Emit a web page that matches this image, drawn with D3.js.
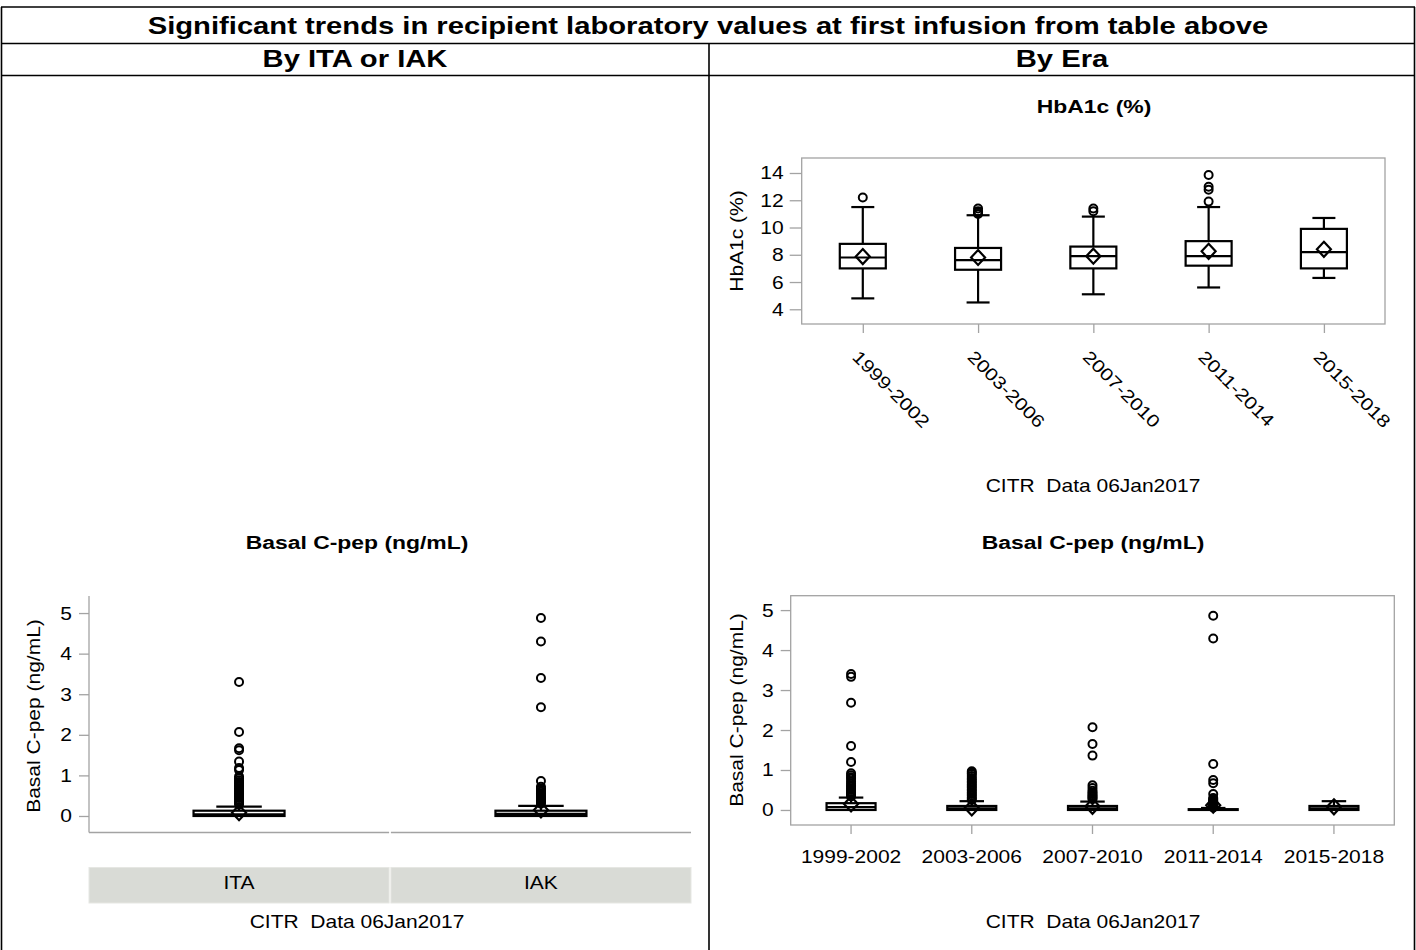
<!DOCTYPE html>
<html><head><meta charset="utf-8">
<script src="https://cdn.jsdelivr.net/npm/d3@7"></script>
<style>
html,body{margin:0;padding:0;background:#fff;}
text{font-family:"Liberation Sans",Arial,sans-serif;fill:#000;white-space:pre;}
</style></head><body>
<svg id="c" width="1416" height="950"></svg>
<script>
// ---------------- data ----------------
const headerTitle = "Significant trends in recipient laboratory values at first infusion from table above";
const colHeaders = ["By ITA or IAK", "By Era"];
const footnote = "CITR  Data 06Jan2017";
const hbTitle = "HbA1c (%)";
const cpTitle = "Basal C-pep (ng/mL)";

const eras = ["1999-2002", "2003-2006", "2007-2010", "2011-2014", "2015-2018"];
const hbTicks = [4, 6, 8, 10, 12, 14];
const hbMin  = [4.8, 4.5, 5.1, 5.6, 6.3];
const hbQ1   = [7.0, 6.9, 7.0, 7.2, 7.0];
const hbMed  = [7.8, 7.6, 7.9, 7.9, 8.2];
const hbQ3   = [8.8, 8.5, 8.6, 9.0, 9.9];
const hbMax  = [11.5, 10.9, 10.8, 11.5, 10.7];
const hbMean = [7.87, 7.8, 7.9, 8.25, 8.4];
const hbOut  = [[12.2], [11.0, 11.1, 11.2, 11.4], [11.2, 11.4], [11.9, 12.77, 12.99, 13.85], []];

const cpTicks = [0, 1, 2, 3, 4, 5];
const eraMin  = [0, 0, 0, 0, 0];
const eraQ1   = [0, 0, 0, 0, 0];
const eraMed  = [0.07, 0.04, 0.04, 0.0, 0.04];
const eraQ3   = [0.17, 0.1, 0.1, 0.02, 0.1];
const eraMax  = [0.31, 0.22, 0.21, 0.05, 0.22];
const eraMean = [0.15, 0.05, 0.09, 0.12, 0.08];
const eraOut  = [
  [3.4, 3.33, 2.68, 1.6, 1.2, 0.92, 0.87, 0.82, 0.78, 0.72, 0.67, 0.62, 0.58, 0.54, 0.5, 0.46, 0.43, 0.4, 0.37, 0.34],
  [0.97, 0.93, 0.9, 0.85, 0.8, 0.76, 0.72, 0.68, 0.64, 0.6, 0.56, 0.52, 0.48, 0.44, 0.4, 0.36, 0.32, 0.28, 0.25],
  [2.07, 1.65, 1.36, 0.62, 0.55, 0.48, 0.44, 0.4, 0.36, 0.33, 0.3, 0.27],
  [4.86, 4.29, 1.15, 0.75, 0.67, 0.4, 0.3, 0.27, 0.24, 0.21, 0.18, 0.15, 0.12, 0.1, 0.08, 0.06],
  []
];

const groups   = ["ITA", "IAK"];
const grpMin   = [0, 0];
const grpQ1    = [0, 0];
const grpMed   = [0.04, 0.05];
const grpQ3    = [0.13, 0.13];
const grpMax   = [0.23, 0.25];
const grpMean  = [0.08, 0.15];
const grpOut   = [
  [3.3, 2.07, 1.67, 1.62, 1.34, 1.18, 1.13, 0.97, 0.93, 0.88, 0.84, 0.8, 0.76, 0.72, 0.68, 0.64, 0.6, 0.56, 0.52, 0.48, 0.44, 0.4, 0.36, 0.32, 0.28],
  [4.88, 4.3, 3.4, 2.68, 0.86, 0.72, 0.68, 0.64, 0.6, 0.56, 0.52, 0.48, 0.45, 0.42, 0.39, 0.36, 0.33, 0.3]
];

// ---------------- helpers ----------------
const svg = d3.select("#c");
const REG = {size: 17.5, sx: 1.2};
const BOLD = {size: 17.5, sx: 1.31, weight: "bold"};
const HEAD = {size: 23, sx: 1.27, weight: "bold"};
const GRAY = "#a3a3a3";
const intFmt = d3.format("d");

function label(g, x, y, s, o, anchor, rot) {
  return g.append("text")
    .attr("transform", `translate(${x},${y}) rotate(${rot || 0}) scale(${o.sx},1)`)
    .attr("text-anchor", anchor || "middle")
    .style("font-size", o.size + "px")
    .style("font-weight", o.weight || "normal")
    .text(s);
}

function stats(cats, mn, q1, md, q3, mx, mean, out) {
  return cats.map((c, i) => ({cat: c, min: mn[i], q1: q1[i], med: md[i], q3: q3[i], max: mx[i], mean: mean[i], out: out[i]}));
}

function drawBoxes(g, data, cx, y, halfW) {
  const capW = halfW / 2;
  const b = g.selectAll("g.box").data(data).join("g").attr("class", "box")
    .attr("transform", d => `translate(${cx(d.cat)},0)`);
  const ln = {stroke: "#000", "stroke-width": 2.2, fill: "none"};
  function L(sel) { Object.entries(ln).forEach(([k, v]) => sel.attr(k, v)); return sel; }
  L(b.append("line").attr("x1", 0).attr("x2", 0).attr("y1", d => y(d.q3)).attr("y2", d => y(d.max)));
  L(b.append("line").attr("x1", 0).attr("x2", 0).attr("y1", d => y(d.q1)).attr("y2", d => y(d.min)));
  L(b.append("line").attr("x1", -capW).attr("x2", capW).attr("y1", d => y(d.max)).attr("y2", d => y(d.max)));
  L(b.filter(d => d.min < d.q1).append("line").attr("x1", -capW).attr("x2", capW).attr("y1", d => y(d.min)).attr("y2", d => y(d.min)));
  L(b.append("rect").attr("x", -halfW).attr("width", 2 * halfW)
    .attr("y", d => y(d.q3)).attr("height", d => Math.max(0.5, y(d.q1) - y(d.q3))));
  L(b.append("line").attr("x1", -halfW).attr("x2", halfW).attr("y1", d => y(d.med)).attr("y2", d => y(d.med)));
  L(b.append("path").attr("d", d => {
    const m = y(d.mean);
    return `M0,${m - 7.5}L7,${m}L0,${m + 7.5}L-7,${m}Z`;
  }));
  b.selectAll("circle").data(d => d.out).join("circle")
    .attr("cx", 0).attr("cy", v => y(v)).attr("r", 4)
    .attr("fill", "none").attr("stroke", "#000").attr("stroke-width", 2);
}

function styleAxis(ax, o) {
  ax.select(".domain").remove();
  ax.selectAll(".tick line").attr("stroke", GRAY).attr("stroke-width", 1.3);
  ax.selectAll(".tick text").style("font-size", o.size + "px").style("font-family", null);
}

// ---------------- table frame ----------------
const T = svg.append("g");
const tl = (x1, y1, x2, y2) => T.append("line").attr("x1", x1).attr("y1", y1).attr("x2", x2).attr("y2", y2)
  .attr("stroke", "#000").attr("stroke-width", 1.6);
tl(1, 7, 1415, 7);
tl(1, 43.5, 1415, 43.5);
tl(1, 75.5, 1415, 75.5);
tl(1.5, 7, 1.5, 950);
tl(1414.5, 7, 1414.5, 950);
tl(709, 43.5, 709, 950);
label(T, 708, 34, headerTitle, HEAD);
label(T, 355, 67, colHeaders[0], HEAD);
label(T, 1062, 67, colHeaders[1], HEAD);

// ---------------- HbA1c by era ----------------
{
  const g = svg.append("g");
  const x0 = 801.7, x1 = 1385, yT = 158, yB = 324;
  const y = d3.scaleLinear().domain([2.92, 15.1]).range([yB, yT]);
  const x = d3.scalePoint().domain(eras).range([x0, x1]).padding(0.53);
  g.append("rect").attr("x", x0).attr("y", yT).attr("width", x1 - x0).attr("height", yB - yT)
    .attr("fill", "none").attr("stroke", GRAY).attr("stroke-width", 1.3);
  const ay = g.append("g").attr("transform", `translate(${x0},0)`)
    .call(d3.axisLeft(y).tickValues(hbTicks).tickFormat(intFmt).tickSize(12).tickPadding(6));
  styleAxis(ay, REG);
  ay.selectAll(".tick text").attr("x", null).attr("dy", null)
    .attr("transform", `translate(-18,6) scale(${REG.sx},1)`);
  const ax = g.append("g").attr("transform", `translate(0,${yB})`)
    .call(d3.axisBottom(x).tickSize(9).tickPadding(4));
  styleAxis(ax, REG);
  ax.selectAll(".tick text").attr("y", null).attr("dy", null).attr("text-anchor", "start")
    .attr("transform", `translate(-12,34) rotate(45) scale(${REG.sx},1)`);
  drawBoxes(g, stats(eras, hbMin, hbQ1, hbMed, hbQ3, hbMax, hbMean, hbOut), d => x(d), y, 23);
  label(g, 1094, 113, hbTitle, BOLD);
  label(g, 743, 241, hbTitle, REG, "middle", -90);
  label(g, 1093, 492, footnote, REG);
}

// ---------------- Basal C-pep by era ----------------
{
  const g = svg.append("g");
  const x0 = 790.7, x1 = 1394.3, yT = 595.7, yB = 825;
  const y = d3.scaleLinear().domain([-0.376, 5.36]).range([yB, yT]);
  const x = d3.scaleBand().domain(eras).range([x0, x1]);
  g.append("rect").attr("x", x0).attr("y", yT).attr("width", x1 - x0).attr("height", yB - yT)
    .attr("fill", "none").attr("stroke", GRAY).attr("stroke-width", 1.3);
  const ay = g.append("g").attr("transform", `translate(${x0},0)`)
    .call(d3.axisLeft(y).tickValues(cpTicks).tickFormat(intFmt).tickSize(10).tickPadding(7));
  styleAxis(ay, REG);
  ay.selectAll(".tick text").attr("x", null).attr("dy", null)
    .attr("transform", `translate(-17,6) scale(${REG.sx},1)`);
  const ax = g.append("g").attr("transform", `translate(0,${yB})`)
    .call(d3.axisBottom(x).tickSize(9).tickPadding(4));
  styleAxis(ax, REG);
  ax.selectAll(".tick text").attr("y", null).attr("dy", null).attr("text-anchor", "middle")
    .attr("transform", `translate(0,38) scale(${REG.sx},1)`);
  drawBoxes(g, stats(eras, eraMin, eraQ1, eraMed, eraQ3, eraMax, eraMean, eraOut),
    d => x(d) + x.bandwidth() / 2, y, 24.5);
  label(g, 1093, 549, cpTitle, BOLD);
  label(g, 743, 710, cpTitle, REG, "middle", -90);
  label(g, 1093, 928, footnote, REG);
}

// ---------------- Basal C-pep by ITA / IAK ----------------
{
  const g = svg.append("g");
  const x0 = 89, x1 = 691, yT = 596, yB = 832.5;
  const y = d3.scaleLinear().domain([-0.407, 5.42]).range([yB, yT]);
  const x = d3.scaleBand().domain(groups).range([x0, x1]).paddingInner(0.006);
  g.append("line").attr("x1", x0).attr("x2", x0).attr("y1", yT).attr("y2", yB)
    .attr("stroke", GRAY).attr("stroke-width", 1.3);
  g.selectAll("line.base").data(groups).join("line").attr("class", "base")
    .attr("x1", d => x(d)).attr("x2", d => x(d) + x.bandwidth())
    .attr("y1", yB).attr("y2", yB).attr("stroke", GRAY).attr("stroke-width", 1.3);
  const ay = g.append("g").attr("transform", `translate(${x0},0)`)
    .call(d3.axisLeft(y).tickValues(cpTicks).tickFormat(intFmt).tickSize(10).tickPadding(7));
  styleAxis(ay, REG);
  ay.selectAll(".tick text").attr("x", null).attr("dy", null)
    .attr("transform", `translate(-17,6) scale(${REG.sx},1)`);
  // panel strip
  g.selectAll("rect.strip").data(groups).join("rect").attr("class", "strip")
    .attr("x", d => x(d)).attr("width", x.bandwidth()).attr("y", 867.5).attr("height", 35.5)
    .attr("fill", "#d9dbd6").attr("stroke", "#e6e7e3").attr("stroke-width", 1);
  groups.forEach(d => label(g, x(d) + x.bandwidth() / 2, 889, d, REG));
  drawBoxes(g, stats(groups, grpMin, grpQ1, grpMed, grpQ3, grpMax, grpMean, grpOut),
    d => x(d) + x.bandwidth() / 2, y, 45.5);
  label(g, 357, 549, cpTitle, BOLD);
  label(g, 40, 716, cpTitle, REG, "middle", -90);
  label(g, 357, 928, footnote, REG);
}
</script>
</body></html>
